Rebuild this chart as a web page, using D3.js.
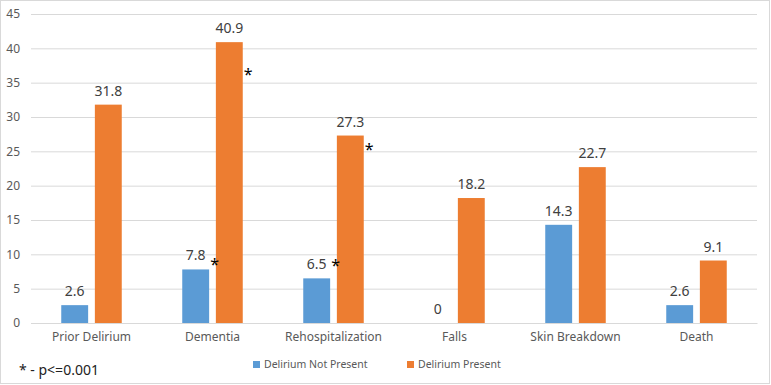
<!DOCTYPE html>
<html>
<head>
<meta charset="utf-8">
<script src="https://cdn.jsdelivr.net/npm/d3@7"></script>
<style>
  body { margin: 0; background: #fff; }
  text { font-family: "Noto Sans", "Open Sans", sans-serif; }
</style>
</head>
<body>
<svg id="chart"></svg>
<script>
// chart data
const categories = ['Prior Delirium', 'Dementia', 'Rehospitalization', 'Falls', 'Skin Breakdown', 'Death'];
const seriesNames = ['Delirium Not Present', 'Delirium Present'];
const notPresent = [2.6, 7.8, 6.5, 0, 14.3, 2.6];
const present = [31.8, 40.9, 27.3, 18.2, 22.7, 9.1];
const yTicks = [0, 5, 10, 15, 20, 25, 30, 35, 40, 45];
// significance markers: category, series, value level where the star sits
const starCats = ['Dementia', 'Dementia', 'Rehospitalization', 'Rehospitalization'];
const starSeries = ['Delirium Not Present', 'Delirium Present', 'Delirium Not Present', 'Delirium Present'];
const starLevels = [7.7, 35.4, 7.6, 24.5];
const footnote = '* - p<=0.001';

const colors = {'Delirium Not Present': '#5B9BD5', 'Delirium Present': '#ED7D31'};

const width = 771, height = 385;
const margin = {top: 14, right: 14, bottom: 62, left: 31};
const innerW = width - margin.left - margin.right;
const innerH = height - margin.top - margin.bottom;

const svg = d3.select('#chart').attr('width', width).attr('height', height);

// outer border
svg.append('rect')
    .attr('x', 0.5).attr('y', 0.5)
    .attr('width', width - 2).attr('height', height - 2)
    .attr('fill', 'none')
    .attr('stroke', '#D9D9D9');

const chart = svg.append('g')
    .attr('transform', `translate(${margin.left},${margin.top})`);

const x0 = d3.scaleBand().domain(categories).range([0, innerW]).padding(0);
const x1 = d3.scaleBand().domain(seriesNames)
    .range([x0.bandwidth() * 0.25, x0.bandwidth() * 0.75])
    .paddingInner(0.2);
const y = d3.scaleLinear().domain([0, 45]).range([innerH, 0]);

// gridlines + y labels
const yAxis = d3.axisLeft(y)
    .tickValues(yTicks)
    .tickSize(-innerW)
    .tickPadding(11);

chart.append('g')
    .call(yAxis)
    .call(g => g.select('.domain').remove())
    .call(g => g.selectAll('.tick line').attr('stroke', '#D9D9D9'))
    .call(g => g.selectAll('.tick text')
        .attr('fill', '#595959')
        .style('font-size', '12px'));

// category labels
const xAxis = d3.axisBottom(x0).tickSize(0).tickPadding(9);
chart.append('g')
    .attr('transform', `translate(0,${innerH})`)
    .call(xAxis)
    .call(g => g.select('.domain').attr('stroke', '#D9D9D9'))
    .call(g => g.selectAll('.tick text')
        .attr('fill', '#595959')
        .style('font-size', '12px'));

const rows = [];
categories.forEach((c, i) => {
  rows.push({cat: c, series: seriesNames[0], value: notPresent[i]});
  rows.push({cat: c, series: seriesNames[1], value: present[i]});
});

chart.selectAll('.bar')
    .data(rows)
  .join('rect')
    .attr('class', 'bar')
    .attr('x', d => x0(d.cat) + x1(d.series))
    .attr('y', d => y(d.value))
    .attr('width', x1.bandwidth())
    .attr('height', d => innerH - y(d.value))
    .attr('fill', d => colors[d.series]);

// data labels
chart.selectAll('.label')
    .data(rows)
  .join('text')
    .attr('class', 'label')
    .attr('x', d => x0(d.cat) + x1(d.series) + x1.bandwidth() / 2)
    .attr('y', d => y(d.value) - 9)
    .attr('text-anchor', 'middle')
    .attr('fill', '#404040')
    .style('font-size', '14px')
    .text(d => d.value);

// stars
chart.selectAll('.star')
    .data(starCats.map((c, i) => ({cat: c, series: starSeries[i], level: starLevels[i]})))
  .join('text')
    .attr('class', 'star')
    .attr('x', d => x0(d.cat) + x1(d.series) + x1.bandwidth() + 1)
    .attr('y', d => y(d.level))
    .attr('fill', '#000')
    .style('font-size', '16px')
    .text('*');

// legend
const legend = svg.append('g').attr('transform', 'translate(253,361)');
const legendX = [0, 154];
seriesNames.forEach((s, i) => {
  const g = legend.append('g').attr('transform', `translate(${legendX[i]},0)`);
  g.append('rect').attr('width', 7).attr('height', 7).attr('y', 0).attr('fill', colors[s]);
  g.append('text')
      .attr('x', 11).attr('y', 7)
      .attr('fill', '#595959')
      .style('font-size', '10.5px')
      .text(s);
});

// footnote
svg.append('text')
    .attr('x', 19).attr('y', 375)
    .attr('fill', '#222')
    .style('font-size', '14px')
    .text(footnote);
</script>
</body>
</html>
